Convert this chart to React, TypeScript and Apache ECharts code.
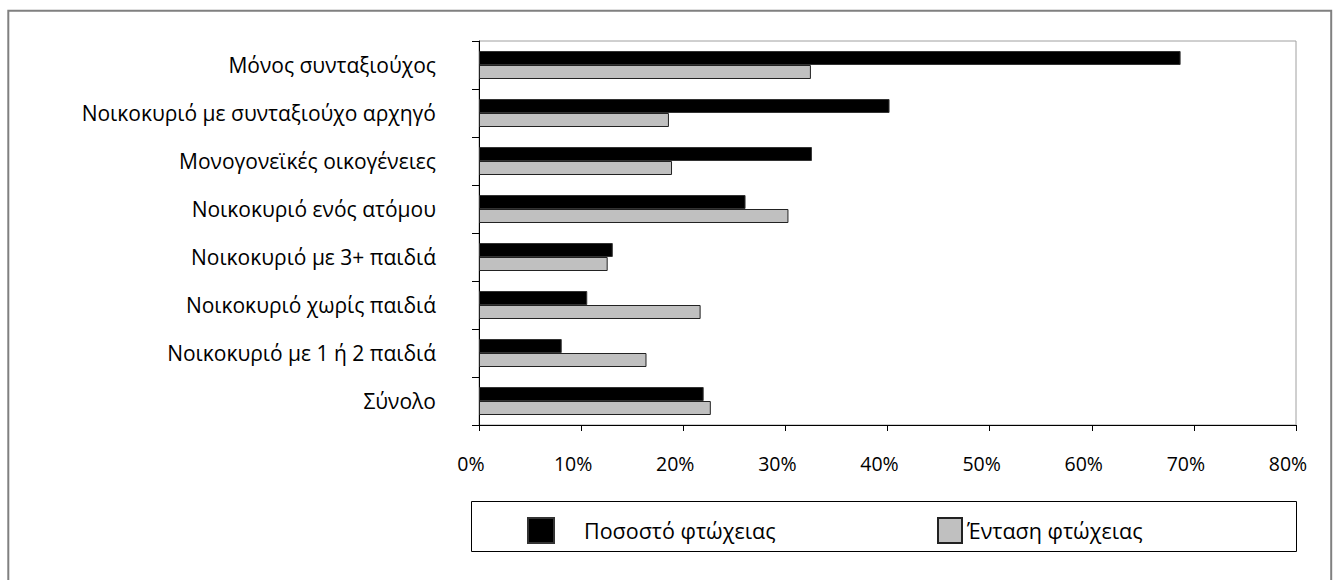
import React, { useEffect, useRef } from "react";
import * as echarts from "echarts";

const categories = [
  "Μόνος συνταξιούχος",
  "Νοικοκυριό με συνταξιούχο αρχηγό",
  "Μονογονεϊκές οικογένειες",
  "Νοικοκυριό ενός ατόμου",
  "Νοικοκυριό με 3+ παιδιά",
  "Νοικοκυριό χωρίς παιδιά",
  "Νοικοκυριό με 1 ή 2 παιδιά",
  "Σύνολο",
];
const povertyRate = [68.7, 40.2, 32.6, 26.1, 13.1, 10.6, 8.1, 22.0];
const povertyIntensity = [32.5, 18.6, 18.9, 30.3, 12.6, 21.7, 16.4, 22.7];
const seriesNames = ["Ποσοστό φτώχειας", "Ένταση φτώχειας"];
const xTicks = { min: 0, max: 80, interval: 10 };

const FONT = "'Open Sans', 'DejaVu Sans', sans-serif";

export default function App() {
  const ref = useRef<HTMLDivElement>(null);
  useEffect(() => {
    if (!ref.current) return;
    const chart = echarts.init(ref.current, null, { renderer: "svg" });
    chart.setOption({
      animation: false,
      backgroundColor: "#ffffff",
      textStyle: { fontFamily: FONT },
      grid: {
        left: 479,
        top: 41,
        right: 37,
        bottom: 155,
        show: true,
        borderColor: "#a0a0a0",
        borderWidth: 1,
        backgroundColor: "transparent",
      },
      legend: [
        {
          data: [seriesNames[0]],
          left: 527,
          top: 517,
          padding: 0,
          itemWidth: 26,
          itemHeight: 25,
          icon: "rect",
          selectedMode: false,
          textStyle: { fontFamily: FONT, fontSize: 21.5, color: "#000", padding: [0, 0, 0, 25] },
        },
        {
          data: [seriesNames[1]],
          left: 937,
          top: 517,
          padding: 0,
          itemWidth: 24,
          itemHeight: 25,
          icon: "rect",
          selectedMode: false,
          textStyle: { fontFamily: FONT, fontSize: 21.5, color: "#000" },
        },
      ],
      xAxis: {
        type: "value",
        min: xTicks.min,
        max: xTicks.max,
        interval: xTicks.interval,
        splitLine: { show: false },
        axisLine: { show: true, lineStyle: { color: "#000", width: 1 } },
        axisTick: { show: true, inside: false, length: 6, lineStyle: { color: "#000" } },
        axisLabel: {
          formatter: "{value}%",
          fontFamily: FONT,
          fontSize: 19.5,
          color: "#000",
          margin: 28,
          padding: [0, 16, 0, 0],
        },
      },
      yAxis: {
        type: "category",
        data: categories,
        inverse: true,
        axisLine: { show: true, lineStyle: { color: "#000", width: 1 } },
        axisTick: { show: true, inside: false, length: 7, lineStyle: { color: "#000" } },
        axisLabel: { fontFamily: FONT, fontSize: 21, color: "#000", margin: 43, padding: [0, 0, 3, 0] },
        splitLine: { show: false },
      },
      series: [
        {
          name: seriesNames[0],
          type: "bar",
          data: povertyRate,
          barWidth: 14,
          barGap: "0%",
          itemStyle: { color: "#000000", borderColor: "#333", borderWidth: 1 },
        },
        {
          name: seriesNames[1],
          type: "bar",
          data: povertyIntensity,
          barWidth: 14,
          barGap: "0%",
          itemStyle: { color: "#c0c0c0", borderColor: "#222", borderWidth: 1 },
        },
      ],
      graphic: [
        {
          type: "rect",
          shape: { x: 8.3, y: 10.8, width: 1322.9, height: 600 },
          style: { fill: "none", stroke: "#808080", lineWidth: 2 },
          silent: true,
        },
        {
          type: "rect",
          shape: { x: 471.5, y: 501.5, width: 825, height: 50 },
          style: { fill: "none", stroke: "#000", lineWidth: 1 },
          silent: true,
        },
      ],
    });
    return () => chart.dispose();
  }, []);
  return (
    <div
      ref={ref}
      style={{ position: "absolute", left: 0, top: 0, width: 1333, height: 580 }}
    />
  );
}
